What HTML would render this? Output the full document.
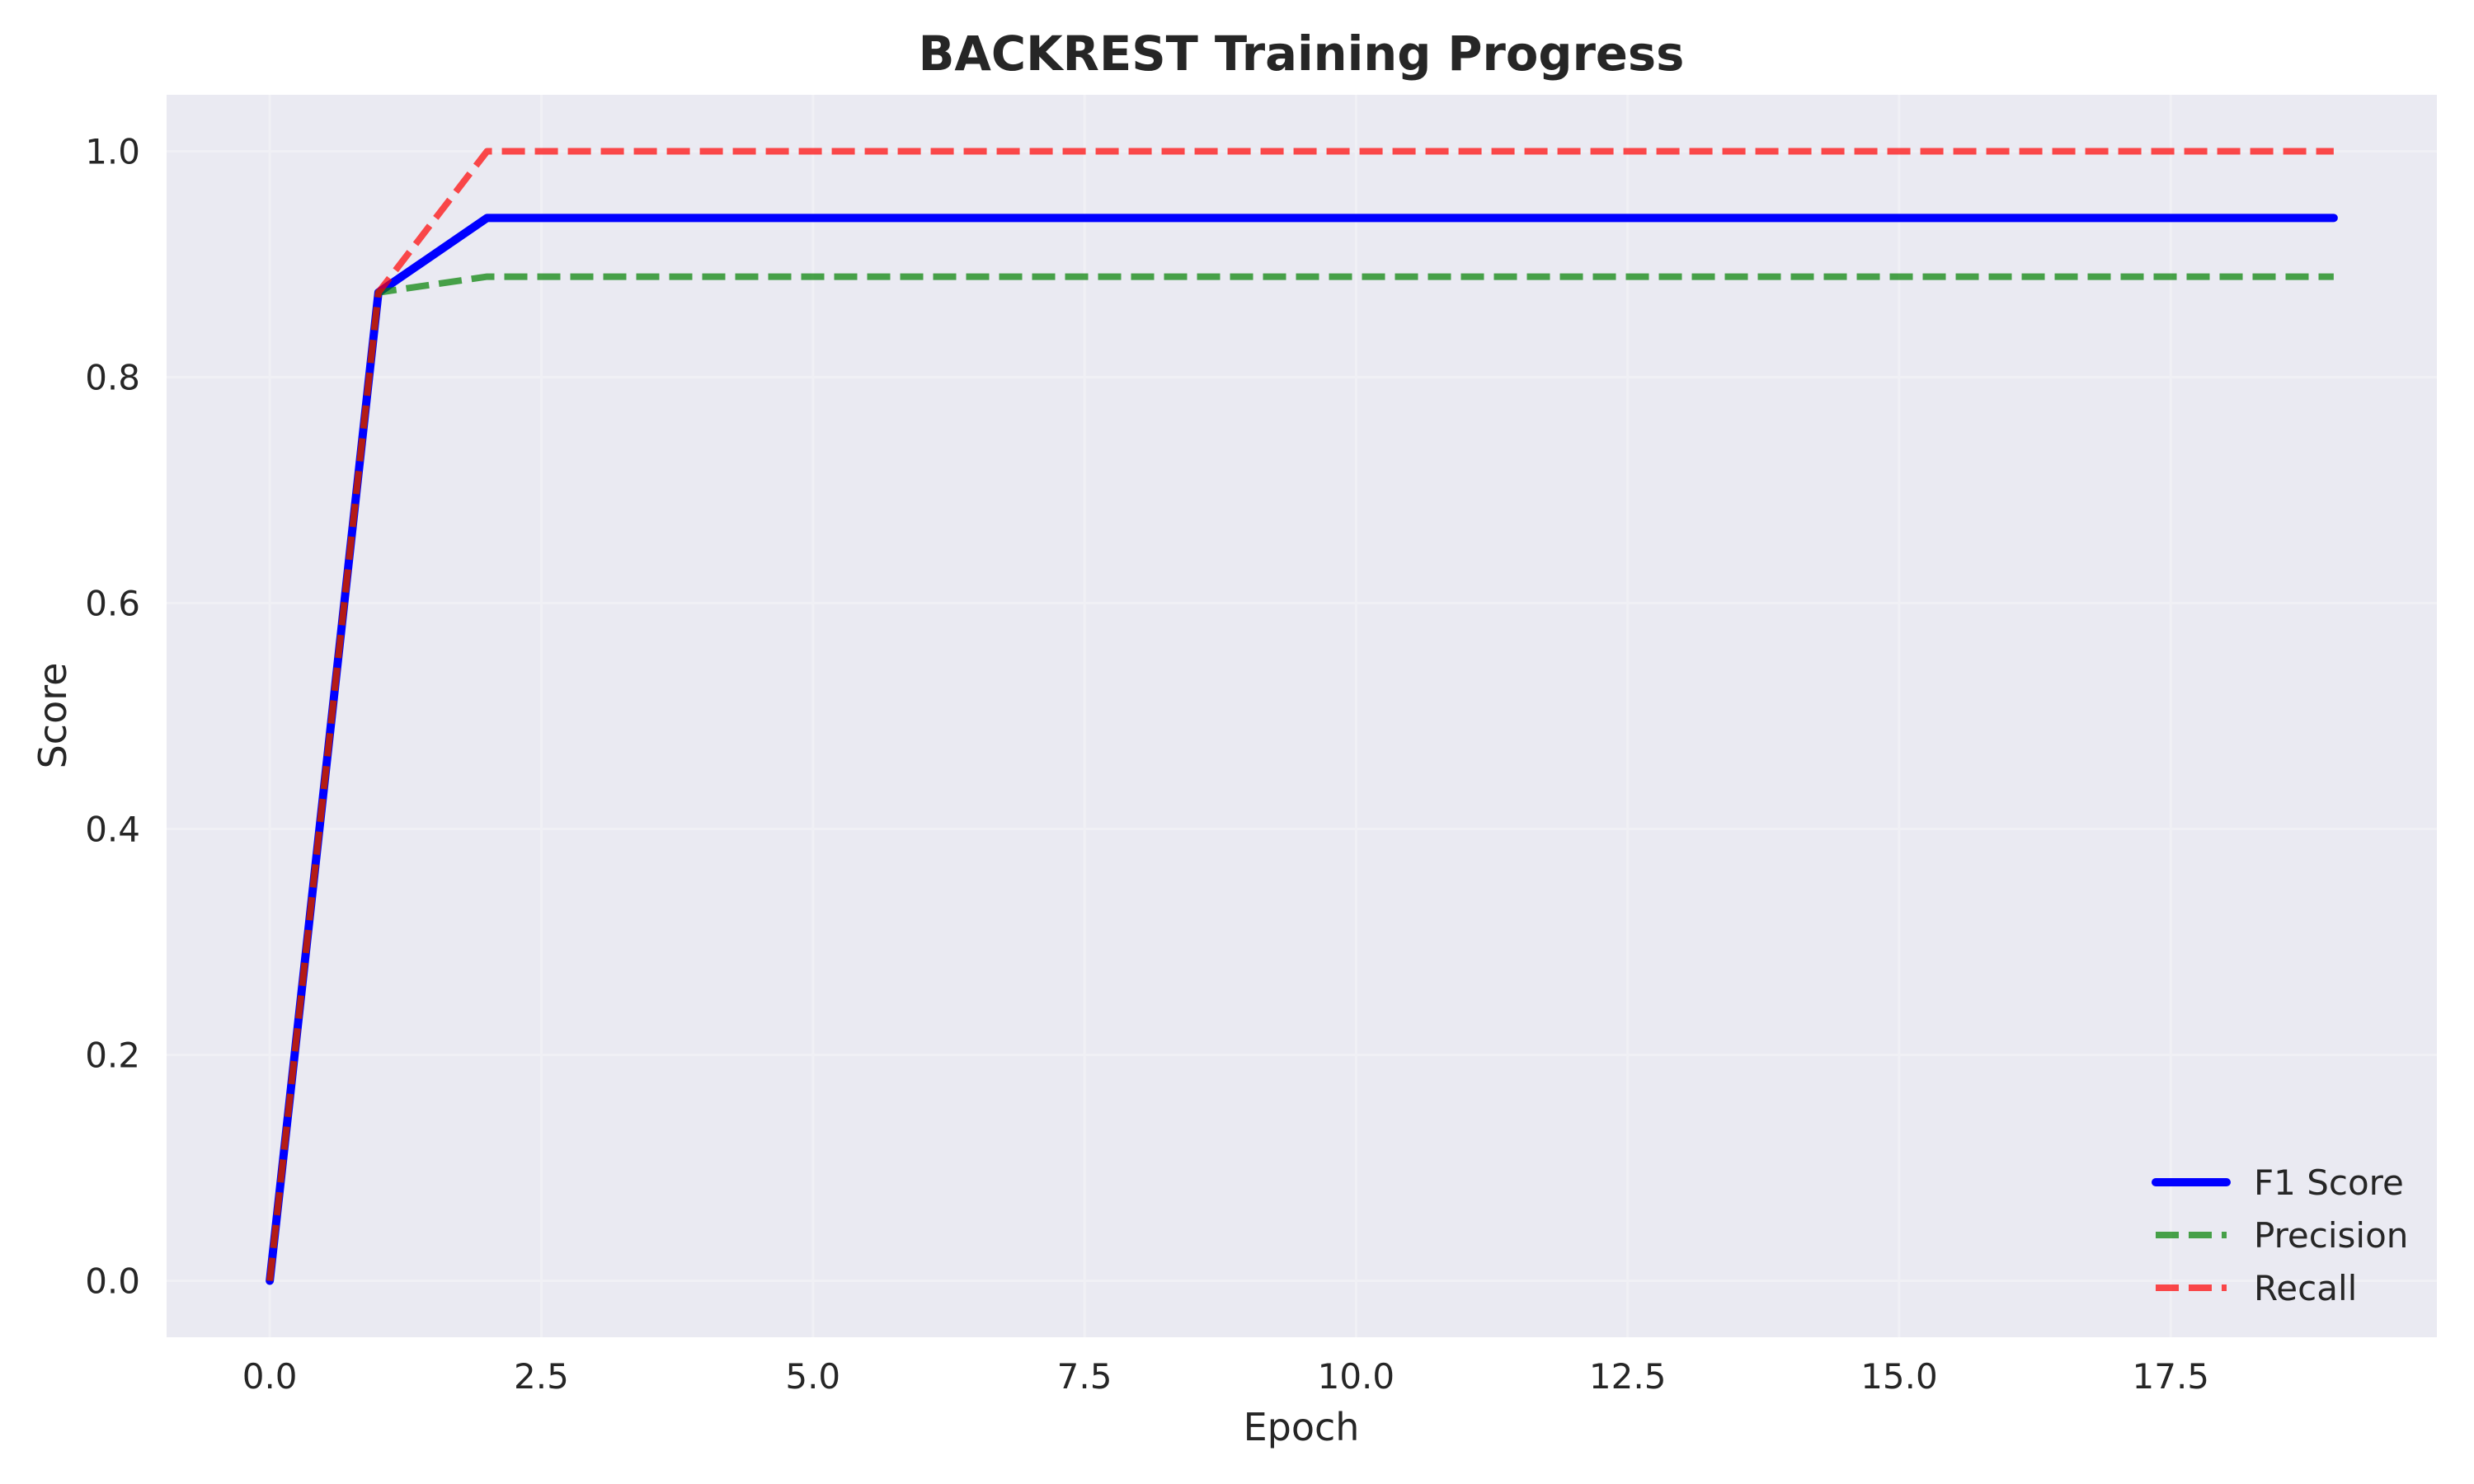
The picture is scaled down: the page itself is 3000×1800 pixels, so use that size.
<!DOCTYPE html>
<html><head><meta charset="utf-8"><style>
html,body{margin:0;padding:0;background:#fff}
svg{display:block;font-family:"DejaVu Sans","Liberation Sans",sans-serif}
</style></head><body>
<svg id="chart" width="3000" height="1800" viewBox="0 0 3000 1800">
<rect x="0" y="0" width="3000" height="1800" fill="#fff"/>
<rect x="202" y="115" width="2753" height="1507" fill="#eaeaf2"/>
<g id="grid"></g>
<g id="xticks"></g>
<g id="yticks"></g>
<g id="series"></g>
<text x="1578" y="85" text-anchor="middle" font-size="57.5" font-weight="bold" fill="#262626">BACKREST Training Progress</text>
<text x="1578" y="1747" text-anchor="middle" font-size="46" fill="#262626">Epoch</text>
<text x="0" y="0" transform="translate(80,868) rotate(-90)" text-anchor="middle" font-size="46" fill="#262626">Score</text>
<g id="legend"></g>
</svg>
<script>
const epochs = [0,1,2,3,4,5,6,7,8,9,10,11,12,13,14,15,16,17,18,19];
const f1Values = [0,0.875,0.941,0.941,0.941,0.941,0.941,0.941,0.941,0.941,0.941,0.941,0.941,0.941,0.941,0.941,0.941,0.941,0.941,0.941];
const precisionValues = [0,0.875,0.889,0.889,0.889,0.889,0.889,0.889,0.889,0.889,0.889,0.889,0.889,0.889,0.889,0.889,0.889,0.889,0.889,0.889];
const recallValues = [0,0.875,1,1,1,1,1,1,1,1,1,1,1,1,1,1,1,1,1,1];
const xTickValues = [0,2.5,5,7.5,10,12.5,15,17.5];
const yTickValues = [0,0.2,0.4,0.6,0.8,1.0];
const seriesNames = ["F1 Score","Precision","Recall"];

const NS="http://www.w3.org/2000/svg";
const L=202,R=2955,T=115,B=1622;
const xMin=-0.95,xMax=19.95,yMin=-0.05,yMax=1.05;
const sx=v=>L+(v-xMin)/(xMax-xMin)*(R-L);
const sy=v=>B-(v-yMin)/(yMax-yMin)*(B-T);
function mk(tag,attrs,parent){const e=document.createElementNS(NS,tag);for(const k in attrs)e.setAttribute(k,attrs[k]);parent.appendChild(e);return e;}
const grid=document.getElementById('grid'),xt=document.getElementById('xticks'),yt=document.getElementById('yticks'),ser=document.getElementById('series'),leg=document.getElementById('legend');
xTickValues.forEach(v=>{
  const g=mk('line',{x1:sx(v),x2:sx(v),y1:T,y2:B,stroke:'#f0f0f5','stroke-width':3},grid);
  
  
  const t=mk('text',{x:sx(v),y:1684,'text-anchor':'middle','font-size':42,fill:'#262626'},xt);
  t.textContent=v.toFixed(1);
  
  
});
yTickValues.forEach(v=>{
  const g=mk('line',{x1:L,x2:R,y1:sy(v),y2:sy(v),stroke:'#f0f0f5','stroke-width':3},grid);
  
  
  const t=mk('text',{x:170,y:sy(v)+15,'text-anchor':'end','font-size':42,fill:'#262626'},yt);
  t.textContent=v.toFixed(1);
  
  
});
const styles=[
  {vals:f1Values,color:'#0000ff',op:1,w:10,dash:null,name:'f1-score-line'},
  {vals:precisionValues,color:'#008000',op:0.7,w:8,dash:'28 12',name:'precision-line'},
  {vals:recallValues,color:'#ff0000',op:0.7,w:8,dash:'28 12',name:'recall-line'}
];
styles.forEach((s,i)=>{
  const pts=epochs.map((e,j)=>sx(e)+','+sy(s.vals[j])).join(' ');
  const a={points:pts,fill:'none',stroke:s.color,'stroke-opacity':s.op,'stroke-width':s.w,'stroke-linejoin':'round','stroke-linecap':s.dash?'butt':'round'};
  if(s.dash)a['stroke-dasharray']=s.dash;
  const p=mk('polyline',a,ser);
  
  
  const ly=1434+i*64;
  const la={x1:2614,x2:2700,y1:ly,y2:ly,stroke:s.color,'stroke-opacity':s.op,'stroke-width':s.w,'stroke-linecap':s.dash?'butt':'round'};
  if(s.dash)la['stroke-dasharray']=s.dash;
  const ll=mk('line',la,leg);
  
  
  const lt=mk('text',{x:2733,y:ly+15,'font-size':42,fill:'#262626'},leg);
  lt.textContent=seriesNames[i];
  
  
});
</script>
</body></html>
